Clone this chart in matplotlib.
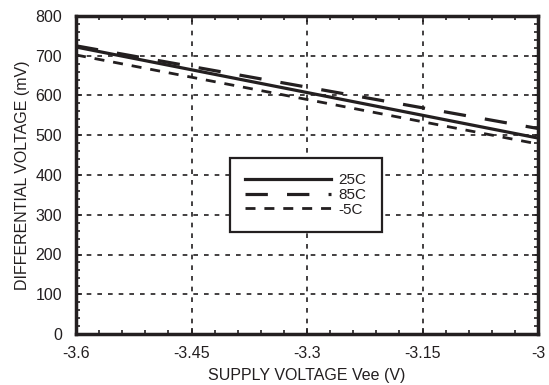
import matplotlib
matplotlib.use("Agg")
import matplotlib.pyplot as plt
from matplotlib.ticker import MultipleLocator

plt.rcParams['font.family'] = ['Liberation Sans', 'DejaVu Sans']

vee = [-3.6, -3.0]
v25 = [722, 493]
v85 = [725, 517]
vm5 = [702, 478]
labels = ["25C", "85C", "-5C"]
xticks = [-3.6, -3.45, -3.3, -3.15, -3.0]
xticklabels = ["-3.6", "-3.45", "-3.3", "-3.15", "-3"]
yticks = [0, 100, 200, 300, 400, 500, 600, 700, 800]

fig = plt.figure(figsize=(5.49, 3.85), dpi=100)
ax = fig.add_axes([76/549, 1-334/385, (538-76)/549, (334-16)/385])

l1, = ax.plot(vee, v25, color='#231f20', lw=2.3, ls='-', zorder=3)
l2, = ax.plot(vee, v85, color='#231f20', lw=2.3, ls=(0, (7, 6)), zorder=3)
l3, = ax.plot(vee, vm5, color='#231f20', lw=2.0, ls=(0, (3.6, 3.2)), zorder=3)

ax.set_xlim(-3.6, -3.0)
ax.set_ylim(0, 800)
ax.set_xticks(xticks)
ax.set_xticklabels(xticklabels)
ax.set_yticks(yticks)
ax.xaxis.set_minor_locator(MultipleLocator(0.03))
ax.yaxis.set_minor_locator(MultipleLocator(20))
ax.tick_params(which='both', direction='in', top=True, right=True, colors='#231f20',
               labelsize=11.5, labelcolor='#231f20')
ax.tick_params(which='major', length=4, width=1.2)
ax.tick_params(which='minor', length=3, width=1.2)
ax.tick_params(axis='x', which='major', pad=9)
ax.tick_params(axis='y', which='major', pad=10)
ax.grid(True, which='major', color='#231f20', ls=(0, (2.8, 3.6)), lw=1.2, zorder=1)
for s in ax.spines.values():
    s.set_linewidth(2.5)
    s.set_color('#231f20')

ax.set_xlabel("SUPPLY VOLTAGE Vee (V)", fontsize=11.5, color='#231f20', labelpad=5)
ax.set_ylabel("DIFFERENTIAL VOLTAGE (mV)", fontsize=11.5, color='#231f20', labelpad=4)

leg = ax.legend([l1, l2, l3], labels, loc='upper left',
                bbox_to_anchor=((230-76)/462, (334-158)/318),
                borderaxespad=0,
                frameon=True, fancybox=False, framealpha=1, edgecolor='#231f20',
                fontsize=11, handlelength=5.6, handletextpad=0.5, labelspacing=0.05,
                borderpad=1.0)
leg.get_frame().set_linewidth(1.6)
leg.set_zorder(5)
for t in leg.get_texts():
    t.set_color('#231f20')

fig.savefig("out.png", dpi=100)
